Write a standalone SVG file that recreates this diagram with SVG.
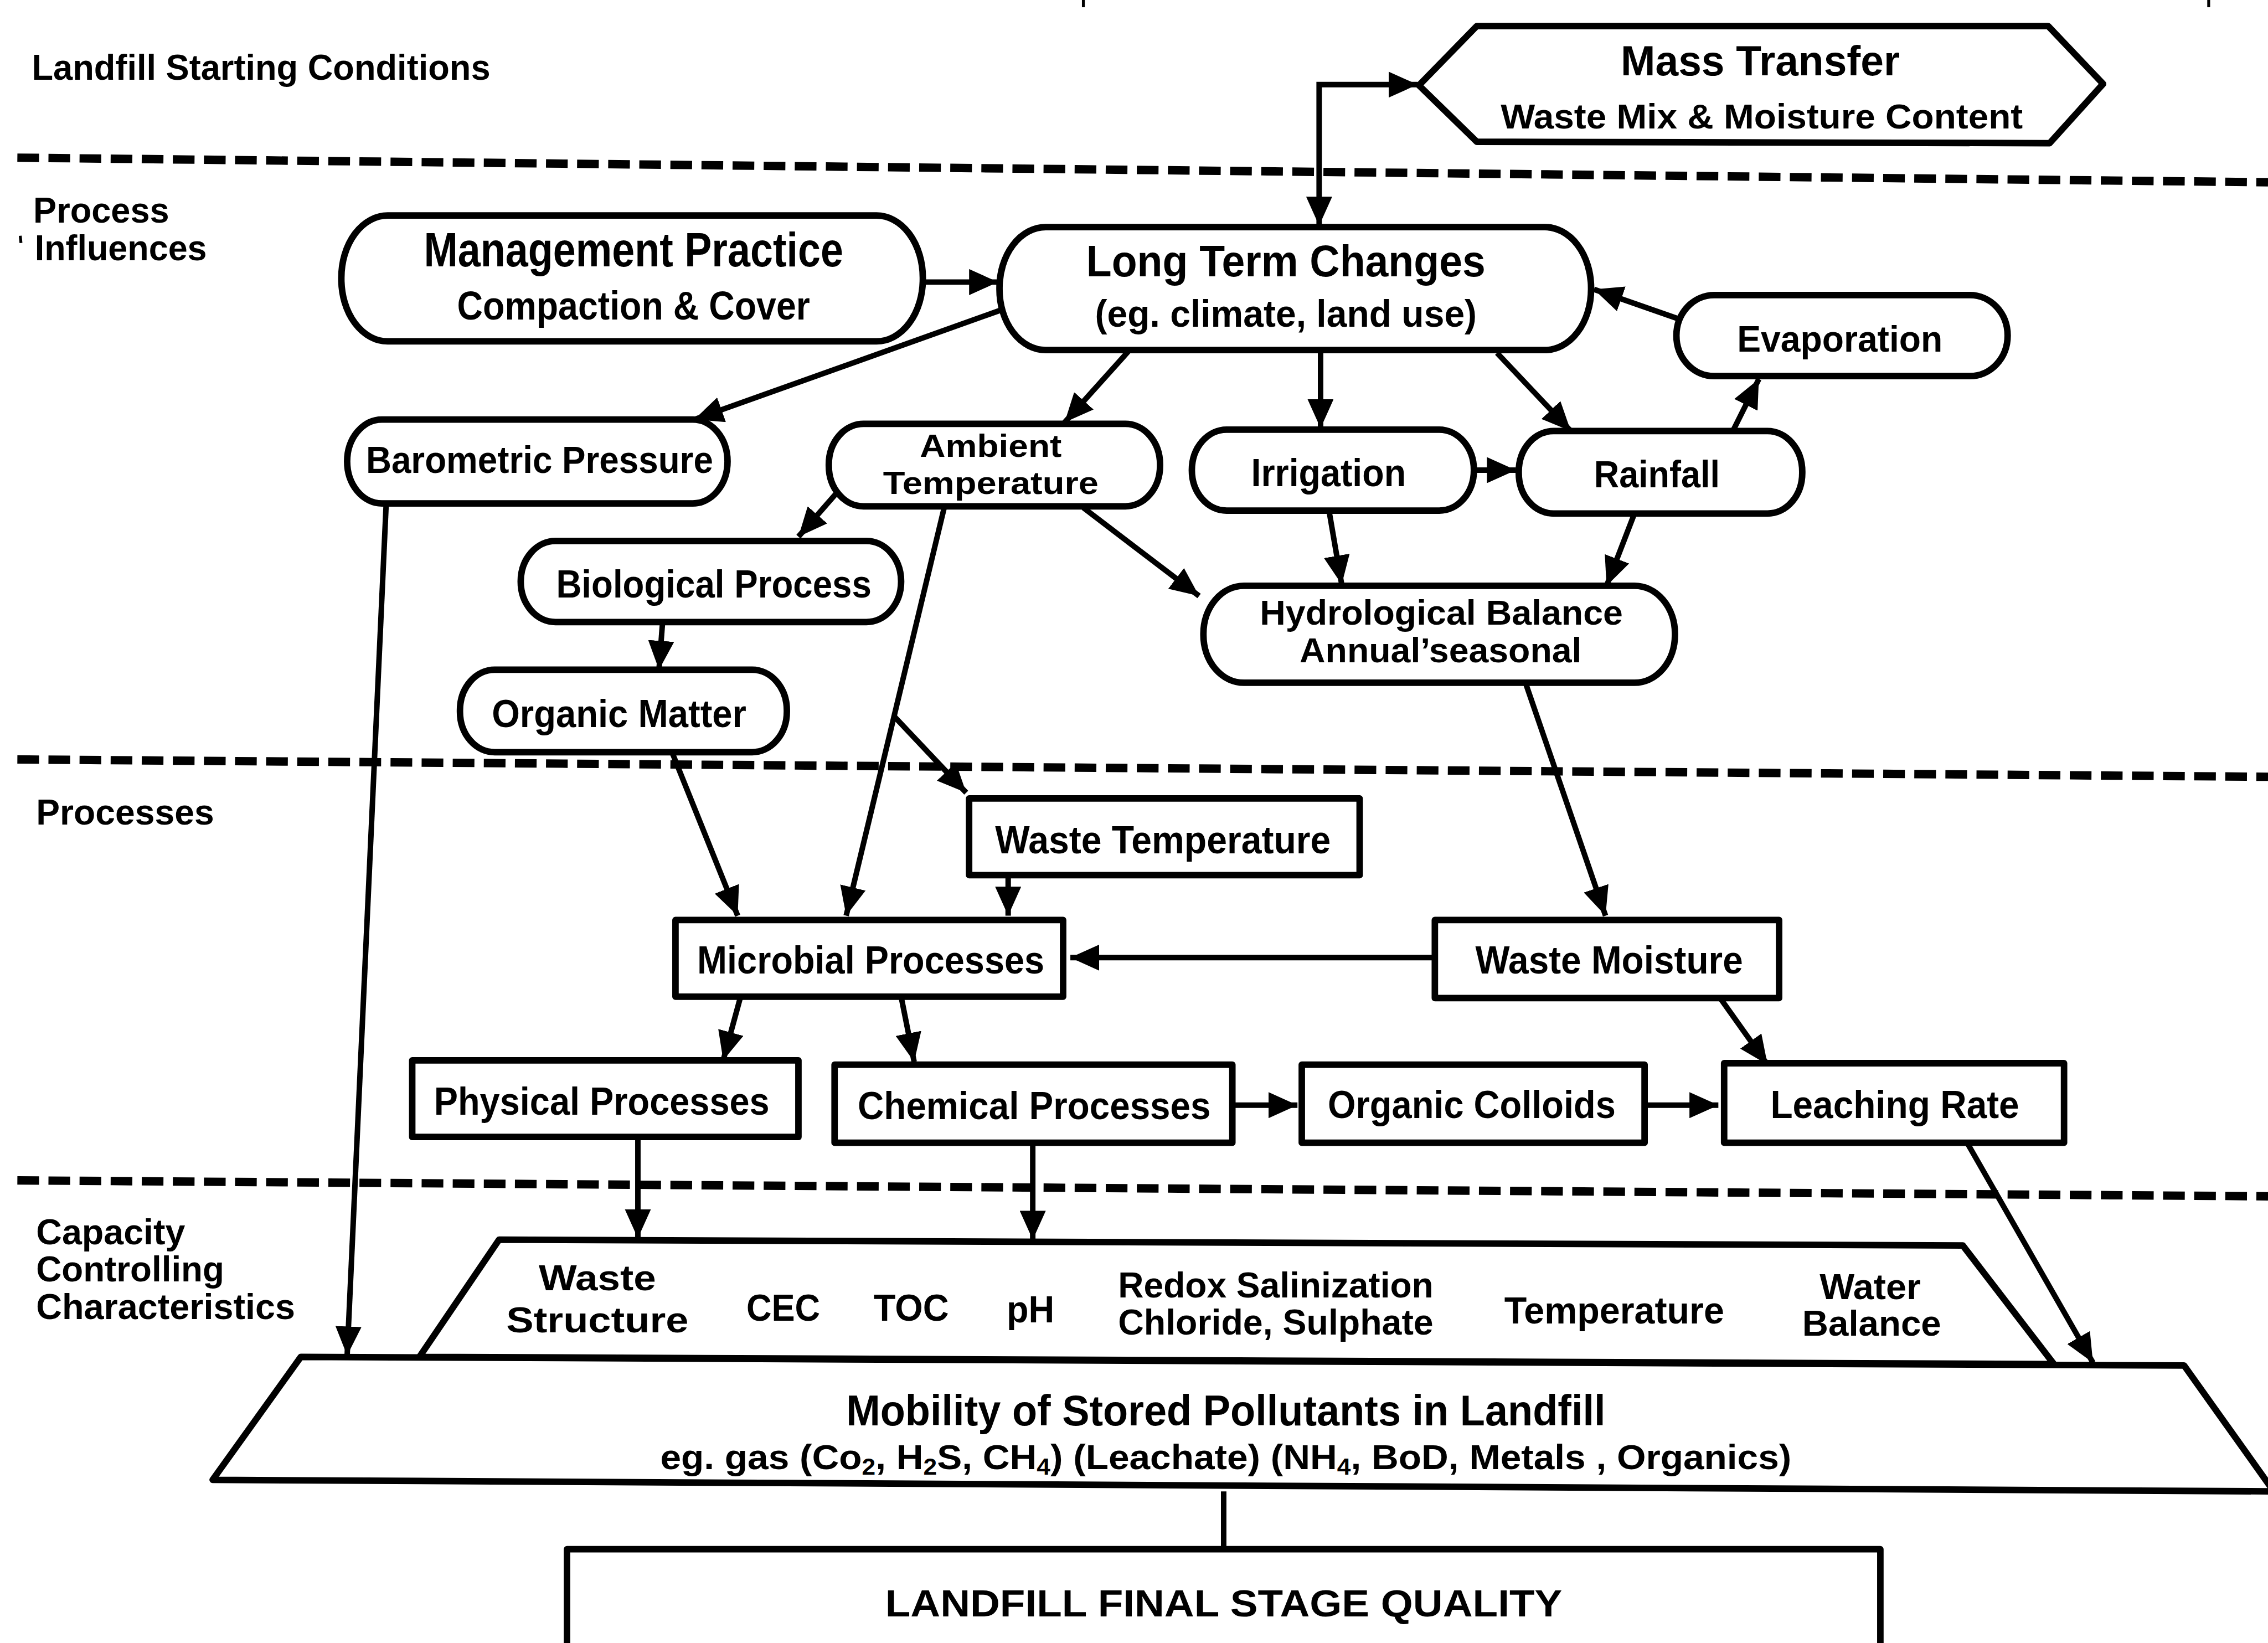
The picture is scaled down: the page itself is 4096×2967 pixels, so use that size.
<svg xmlns="http://www.w3.org/2000/svg" width="4096" height="2967" viewBox="0 0 4096 2967">
  <style>
    .n { fill: #fff; stroke: #000; stroke-width: 4.5; stroke-linejoin: round; }
    .c { fill: none; stroke: #000; stroke-width: 3.8; }
    .d { fill: none; stroke: #000; stroke-width: 5.8; stroke-dasharray: 15 6.5; }
    .mk { fill: none; stroke: #000; stroke-width: 2; }
    text { font-family: "Liberation Sans", Arial, Helvetica, sans-serif; font-weight: bold; fill: #000; }
    .m { text-anchor: middle; }
    .sub { font-size: 16px; }
  </style>
  <defs>
    <marker id="ah" viewBox="0 0 20 18" refX="20" refY="9" markerWidth="20" markerHeight="18" markerUnits="userSpaceOnUse" orient="auto-start-reverse">
      <path d="M0,0 L20,9 L0,18 Z" fill="#000"/>
    </marker>
  </defs>
  <rect width="4096" height="2967" fill="#fff"/>
  <!-- drawing is laid out on a 1568 x 1136 grid and scaled up to the page -->
  <g transform="scale(2.612245)">
    <!-- stage dividers -->
    <g id="dividers">
      <line class="d" x1="12" y1="109" x2="1568" y2="126"/>
      <line class="d" x1="12" y1="525" x2="1568" y2="537"/>
      <line class="d" x1="12" y1="816" x2="1568" y2="827"/>
    </g>
    <!-- stage labels -->
    <g id="stage-labels" font-size="25">
      <text x="22" y="55" textLength="317" lengthAdjust="spacingAndGlyphs">Landfill Starting Conditions</text>
      <text x="23" y="154" textLength="94" lengthAdjust="spacingAndGlyphs">Process</text>
      <text x="24" y="180" textLength="119" lengthAdjust="spacingAndGlyphs">Influences</text>
      <text x="25" y="570" textLength="123" lengthAdjust="spacingAndGlyphs">Processes</text>
      <text x="25" y="860" textLength="103" lengthAdjust="spacingAndGlyphs">Capacity</text>
      <text x="25" y="886" textLength="130" lengthAdjust="spacingAndGlyphs">Controlling</text>
      <text x="25" y="912" textLength="179" lengthAdjust="spacingAndGlyphs">Characteristics</text>
    </g>
    <!-- small print marks -->
    <g id="marks">
      <line class="mk" x1="14" y1="163" x2="14.5" y2="168"/>
      <line class="mk" x1="749" y1="0" x2="749" y2="5"/>
      <line class="mk" x1="1527" y1="0" x2="1527" y2="5"/>
      <line class="mk" x1="300" y1="976" x2="300" y2="980"/>
      <line class="mk" x1="396" y1="1135" x2="470" y2="1135"/>
    </g>

    <g id="mass-transfer">
      <polygon class="n" points="981,59 1021,18 1416,18 1454,58 1417,99 1021,98"/>
      <text class="m" x="1217" y="52" font-size="29" textLength="193" lengthAdjust="spacingAndGlyphs">Mass Transfer</text>
      <text class="m" x="1218" y="89" font-size="24" textLength="361" lengthAdjust="spacingAndGlyphs">Waste Mix &amp; Moisture Content</text>
    </g>
    <g id="management-practice">
      <rect class="n" x="236" y="149" width="402" height="87" rx="32" ry="43"/>
      <text class="m" x="438" y="184" font-size="33" textLength="290" lengthAdjust="spacingAndGlyphs">Management Practice</text>
      <text class="m" x="438" y="221" font-size="28" textLength="244" lengthAdjust="spacingAndGlyphs">Compaction &amp; Cover</text>
    </g>
    <g id="long-term-changes">
      <rect class="n" x="691" y="157" width="409" height="85" rx="32" ry="42"/>
      <text class="m" x="889" y="191" font-size="30.5" textLength="276" lengthAdjust="spacingAndGlyphs">Long Term Changes</text>
      <text class="m" x="889" y="226" font-size="26" textLength="264" lengthAdjust="spacingAndGlyphs">(eg. climate, land use)</text>
    </g>
    <g id="evaporation">
      <rect class="n" x="1159" y="204" width="229" height="56" rx="26" ry="28"/>
      <text class="m" x="1272" y="243" font-size="25.5" textLength="142" lengthAdjust="spacingAndGlyphs">Evaporation</text>
    </g>
    <g id="barometric-pressure">
      <rect class="n" x="240" y="290" width="263" height="58" rx="24" ry="29"/>
      <text class="m" x="373" y="327" font-size="26.5" textLength="240" lengthAdjust="spacingAndGlyphs">Barometric Pressure</text>
    </g>
    <g id="ambient-temperature">
      <rect class="n" x="573" y="293" width="229" height="57" rx="24" ry="28"/>
      <text class="m" x="685" y="316" font-size="22" textLength="98" lengthAdjust="spacingAndGlyphs">Ambient</text>
      <text class="m" x="685" y="341.5" font-size="22" textLength="149" lengthAdjust="spacingAndGlyphs">Temperature</text>
    </g>
    <g id="irrigation">
      <rect class="n" x="824" y="297" width="195" height="56" rx="24" ry="28"/>
      <text class="m" x="918.5" y="336" font-size="27" textLength="107" lengthAdjust="spacingAndGlyphs">Irrigation</text>
    </g>
    <g id="rainfall">
      <rect class="n" x="1050" y="298" width="196" height="57" rx="24" ry="28"/>
      <text class="m" x="1145.5" y="337" font-size="26" textLength="87" lengthAdjust="spacingAndGlyphs">Rainfall</text>
    </g>
    <g id="biological-process">
      <rect class="n" x="360" y="374" width="263" height="56" rx="24" ry="28"/>
      <text class="m" x="493.5" y="413" font-size="27" textLength="218" lengthAdjust="spacingAndGlyphs">Biological Process</text>
    </g>
    <g id="hydrological-balance">
      <rect class="n" x="832" y="405" width="326" height="67" rx="28" ry="33"/>
      <text class="m" x="996.5" y="432" font-size="24" textLength="251" lengthAdjust="spacingAndGlyphs">Hydrological Balance</text>
      <text class="m" x="996" y="458" font-size="24" textLength="195" lengthAdjust="spacingAndGlyphs">Annual’seasonal</text>
    </g>
    <g id="organic-matter">
      <rect class="n" x="318" y="463" width="226" height="57" rx="24" ry="28"/>
      <text class="m" x="428" y="502.5" font-size="27" textLength="176" lengthAdjust="spacingAndGlyphs">Organic Matter</text>
    </g>
    <g id="waste-temperature">
      <rect class="n" x="670" y="552" width="270" height="53"/>
      <text class="m" x="804" y="590" font-size="27" textLength="232" lengthAdjust="spacingAndGlyphs">Waste Temperature</text>
    </g>
    <g id="microbial-processes">
      <rect class="n" x="467" y="636" width="268" height="53"/>
      <text class="m" x="602" y="673" font-size="27" textLength="240" lengthAdjust="spacingAndGlyphs">Microbial Processes</text>
    </g>
    <g id="waste-moisture">
      <rect class="n" x="992" y="636" width="238" height="54"/>
      <text class="m" x="1112.5" y="673" font-size="27" textLength="185" lengthAdjust="spacingAndGlyphs">Waste Moisture</text>
    </g>
    <g id="physical-processes">
      <rect class="n" x="285" y="733" width="267" height="53"/>
      <text class="m" x="416" y="770.5" font-size="27" textLength="232" lengthAdjust="spacingAndGlyphs">Physical Processes</text>
    </g>
    <g id="chemical-processes">
      <rect class="n" x="577" y="736" width="275" height="54"/>
      <text class="m" x="715" y="773.5" font-size="27" textLength="244" lengthAdjust="spacingAndGlyphs">Chemical Processes</text>
    </g>
    <g id="organic-colloids">
      <rect class="n" x="900" y="736" width="237" height="54"/>
      <text class="m" x="1017.5" y="773" font-size="27" textLength="199" lengthAdjust="spacingAndGlyphs">Organic Colloids</text>
    </g>
    <g id="leaching-rate">
      <rect class="n" x="1192" y="735" width="235" height="55"/>
      <text class="m" x="1310" y="773" font-size="27" textLength="172" lengthAdjust="spacingAndGlyphs">Leaching Rate</text>
    </g>
    <g id="capacity-characteristics">
      <polygon class="n" points="345,857 1357,861 1420,943 290,938"/>
      <text class="m" x="413" y="892" font-size="25" textLength="81" lengthAdjust="spacingAndGlyphs">Waste</text>
      <text class="m" x="413" y="921" font-size="25" textLength="126" lengthAdjust="spacingAndGlyphs">Structure</text>
      <text class="m" x="541.5" y="913" font-size="26" textLength="51" lengthAdjust="spacingAndGlyphs">CEC</text>
      <text class="m" x="630" y="913" font-size="26" textLength="52" lengthAdjust="spacingAndGlyphs">TOC</text>
      <text class="m" x="712.5" y="914" font-size="26" textLength="33" lengthAdjust="spacingAndGlyphs">pH</text>
      <text class="m" x="882" y="897" font-size="25" textLength="218" lengthAdjust="spacingAndGlyphs">Redox Salinization</text>
      <text class="m" x="882" y="922.5" font-size="25" textLength="218" lengthAdjust="spacingAndGlyphs">Chloride, Sulphate</text>
      <text class="m" x="1116" y="915" font-size="26" textLength="152" lengthAdjust="spacingAndGlyphs">Temperature</text>
      <text class="m" x="1293" y="898" font-size="25" textLength="70" lengthAdjust="spacingAndGlyphs">Water</text>
      <text class="m" x="1294" y="923.5" font-size="25" textLength="96" lengthAdjust="spacingAndGlyphs">Balance</text>
    </g>
    <g id="pollutant-mobility">
      <polygon class="n" points="208,938 1510,944 1572,1031 147,1023"/>
      <text class="m" x="847.5" y="985.5" font-size="29.5" textLength="525" lengthAdjust="spacingAndGlyphs">Mobility of Stored Pollutants in Landfill</text>
      <text class="m" x="847.5" y="1015.5" font-size="24.4" textLength="782" lengthAdjust="spacingAndGlyphs">eg. gas (Co<tspan class="sub" dy="4">2</tspan><tspan dy="-4">, H</tspan><tspan class="sub" dy="4">2</tspan><tspan dy="-4">S, CH</tspan><tspan class="sub" dy="4">4</tspan><tspan dy="-4">)  (Leachate) (NH</tspan><tspan class="sub" dy="4">4</tspan><tspan dy="-4">, BoD, Metals , Organics)</tspan></text>
    </g>
    <g id="final-stage-quality">
      <rect class="n" x="392" y="1071" width="908" height="90"/>
      <text class="m" x="846" y="1117.5" font-size="26" textLength="468" lengthAdjust="spacingAndGlyphs">LANDFILL FINAL STAGE QUALITY</text>
    </g>

    <!-- connectors -->
    <g id="connectors">
      <path class="c" d="M912,156 V58.5 H980" marker-start="url(#ah)" marker-end="url(#ah)"/>
      <path class="c" d="M638,195 H690" marker-end="url(#ah)"/>
      <path class="c" d="M693,214 L480,290" marker-end="url(#ah)"/>
      <path class="c" d="M780,243 L736,292" marker-end="url(#ah)"/>
      <path class="c" d="M913,243 L913,296" marker-end="url(#ah)"/>
      <path class="c" d="M1035,244 L1086,298" marker-end="url(#ah)"/>
      <path class="c" d="M1198,298 L1216,262" marker-end="url(#ah)"/>
      <path class="c" d="M1162,221 L1102,200" marker-end="url(#ah)"/>
      <path class="c" d="M1019,325 H1048" marker-end="url(#ah)"/>
      <path class="c" d="M919,354 L927.6,404" marker-end="url(#ah)"/>
      <path class="c" d="M1130,355 L1110.7,405" marker-end="url(#ah)"/>
      <path class="c" d="M749,351 L829,412" marker-end="url(#ah)"/>
      <path class="c" d="M580,339 L552,371" marker-end="url(#ah)"/>
      <path class="c" d="M653,350 L585,633" marker-end="url(#ah)"/>
      <path class="c" d="M618,495 L668,548" marker-end="url(#ah)"/>
      <path class="c" d="M267,348 L240,937" marker-end="url(#ah)"/>
      <path class="c" d="M458,431 L455.6,463" marker-end="url(#ah)"/>
      <path class="c" d="M465,521 L510,633" marker-end="url(#ah)"/>
      <path class="c" d="M697,605 L697,633" marker-end="url(#ah)"/>
      <path class="c" d="M1055,473 L1110,633" marker-end="url(#ah)"/>
      <path class="c" d="M992,662 L740,662" marker-end="url(#ah)"/>
      <path class="c" d="M512,689 L500,733" marker-end="url(#ah)"/>
      <path class="c" d="M623,689 L632,734" marker-end="url(#ah)"/>
      <path class="c" d="M1190,691 L1222,736" marker-end="url(#ah)"/>
      <path class="c" d="M852,764 H897" marker-end="url(#ah)"/>
      <path class="c" d="M1137,764 H1188" marker-end="url(#ah)"/>
      <path class="c" d="M441,786 V856" marker-end="url(#ah)"/>
      <path class="c" d="M714,790 V857" marker-end="url(#ah)"/>
      <path class="c" d="M1360,790 L1447,942" marker-end="url(#ah)"/>
      <path class="c" d="M846,1031 V1071"/>
    </g>
  </g>
</svg>
